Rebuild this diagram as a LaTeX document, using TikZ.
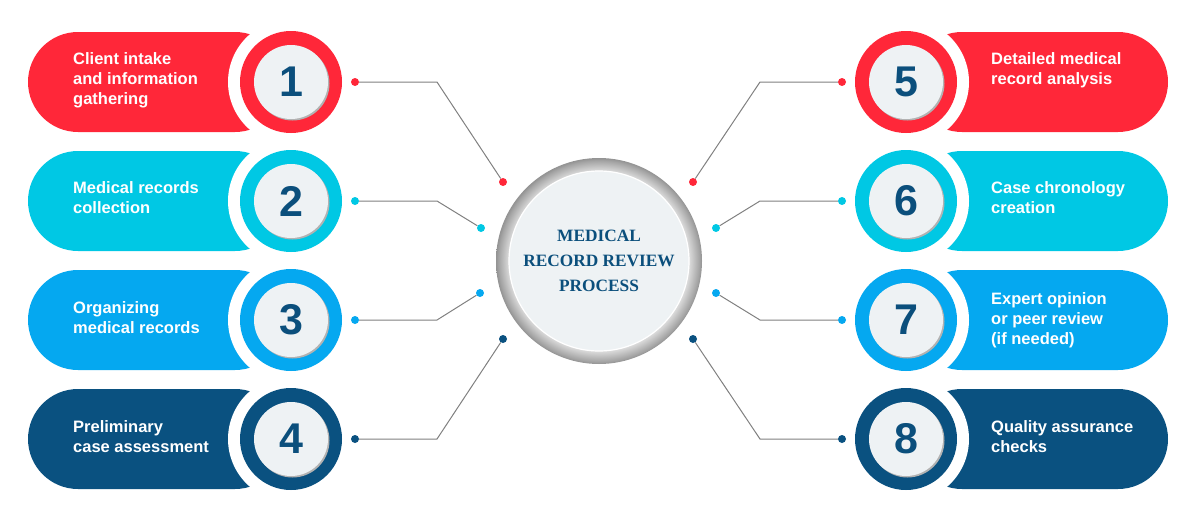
\documentclass[tikz,border=0pt]{standalone}
\usepackage{fontspec}
\setmainfont{Liberation Serif}
\setsansfont{Liberation Sans}
\usetikzlibrary{positioning,calc}

\definecolor{stepred}{HTML}{FF2739}
\definecolor{stepcyan}{HTML}{00C8E4}
\definecolor{stepblue}{HTML}{05A8F0}
\definecolor{stepnavy}{HTML}{0A5180}
\definecolor{numblue}{HTML}{0B4F7C}
\definecolor{discfill}{HTML}{EEF2F4}
\definecolor{linkgray}{HTML}{808080}

% grey ring of the hub: light at the inner edge, dark at the outer edge
\pgfdeclareradialshading{hubring}{\pgfpoint{0bp}{0bp}}{%
  color(0bp)=(gray!25); color(21.5bp)=(gray!25); color(22bp)=(gray!30);
  color(24.4bp)=(gray!72); color(25bp)=(gray!85); color(50bp)=(gray!85)}

\begin{document}
\begin{tikzpicture}[
  x=1pt,y=-1pt,
  pill/.style={rounded corners=50pt},
  halo/.style={circle,fill=white,minimum size=126pt,inner sep=0pt},
  ring/.style={circle,minimum size=102pt,inner sep=0pt},
  numdisc/.style={circle,fill=discfill,minimum size=74pt,inner sep=0pt,
    text=numblue,font=\sffamily\bfseries\fontsize{43}{43}\selectfont},
  dot/.style={circle,minimum size=8pt,inner sep=0pt},
  link/.style={draw=linkgray,line width=1pt},
  steptext/.style={anchor=west,align=left,text=white,inner sep=0pt,
    font=\sffamily\bfseries\fontsize{16.5}{20}\selectfont},
  hubtext/.style={text=numblue,align=center,
    font=\rmfamily\bfseries\fontsize{17.3}{25}\selectfont}
]
\useasboundingbox (0,0) rectangle (1200,522);

% ===================== CENTER: hub =====================
\shade[shading=hubring] (599,261) circle[radius=103pt];
\node[circle,fill=discfill,draw=white,line width=1.2pt,minimum size=180pt,
  inner sep=0pt,hubtext] (hub) at (599,261) {MEDICAL\\RECORD REVIEW\\PROCESS};

% ===================== LEFT: steps 1-4 =====================
\foreach \i/\y/\ty/\col/\ex/\ey/\txt in {
  1/82/80/stepred/503/182/{Client intake\\and information\\gathering},
  2/201/198/stepcyan/481/228/{Medical records\\collection},
  3/320/318/stepblue/480/293/{Organizing\\medical records},
  4/439/437/stepnavy/503/339/{Preliminary\\case assessment}}{
  \fill[\col,pill] (28,\y-50) rectangle (285,\y+50);
  \node[halo] (halo\i) at (291,\y) {};
  \node[ring,fill=\col] (ring\i) at (291,\y) {};
  \fill[black!30] (292.5,\y+1.5) circle[radius=37pt];
  \node[numdisc] (num\i) at (291,\y) {\i};
  \node[steptext] (txt\i) at (73,\ty) {\txt};
  % connector to the hub
  \node[dot,fill=\col] (outer\i) at (355,\y) {};
  \coordinate (bend\i) at (437,\y);
  \node[dot,fill=\col] (inner\i) at (\ex,\ey) {};
  \draw[link] (outer\i) -- (bend\i) -- (inner\i);
}

% ===================== RIGHT: steps 5-8 =====================
\foreach \i/\y/\ty/\col/\ex/\ey/\txt in {
  5/82/70/stepred/693/182/{Detailed medical\\record analysis},
  6/201/198/stepcyan/716/228/{Case chronology\\creation},
  7/320/320/stepblue/716/293/{Expert opinion\\or peer review\\(if needed)},
  8/439/437/stepnavy/693/339/{Quality assurance\\checks}}{
  \fill[\col,pill] (912,\y-50) rectangle (1168,\y+50);
  \node[halo] (halo\i) at (906,\y) {};
  \node[ring,fill=\col] (ring\i) at (906,\y) {};
  \fill[black!30] (907.5,\y+1.5) circle[radius=37pt];
  \node[numdisc] (num\i) at (906,\y) {\i};
  \node[steptext] (txt\i) at (991,\ty) {\txt};
  % connector to the hub
  \node[dot,fill=\col] (outer\i) at (842,\y) {};
  \coordinate (bend\i) at (760,\y);
  \node[dot,fill=\col] (inner\i) at (\ex,\ey) {};
  \draw[link] (outer\i) -- (bend\i) -- (inner\i);
}

\end{tikzpicture}
\end{document}
